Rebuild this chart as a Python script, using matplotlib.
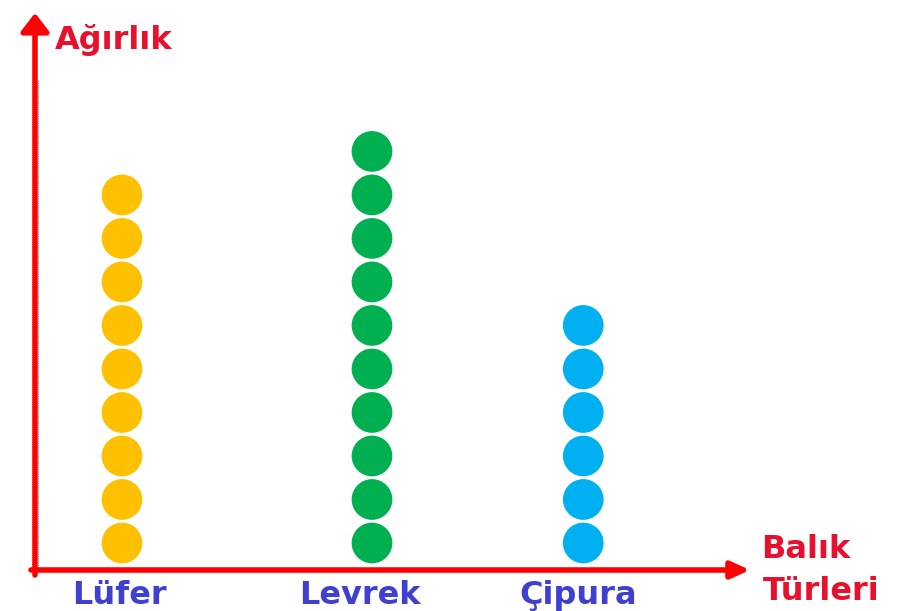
import numpy as np
import matplotlib.pyplot as plt

# Dot plot data: fish types and number of weight units (dots)
fish = ["Lüfer", "Levrek", "Çipura"]
counts = [9, 10, 6]
colors = ["#FFC000", "#00B050", "#00B0F0"]

# horizontal spot of each column (layout)
x_pos = [0, 1.0, 1.845]

fig = plt.figure(figsize=(9, 6.11), dpi=100)
ax = fig.add_axes([0, 0, 1, 1])
ax.set_xlim(-0.488, 3.112)
ax.set_ylim(-0.563, 13.48)
ax.axis("off")

# dots
for x, n, c in zip(x_pos, counts, colors):
    ys = np.arange(1, n + 1)
    ax.scatter([x] * n, ys, s=860, color=c, edgecolors="none", zorder=3)

# axes drawn as red arrows (axes fraction coords)
red = "#FF0000"
ax.annotate("", xy=(35 / 900, 1 - 13 / 611), xytext=(35 / 900, 1 - 575 / 611),
            xycoords="axes fraction",
            arrowprops=dict(arrowstyle="-|>,head_length=1.1,head_width=0.85",
                            color=red, lw=4, shrinkA=0, shrinkB=0))
ax.annotate("", xy=(750 / 900, 1 - 570 / 611), xytext=(31 / 900, 1 - 570 / 611),
            xycoords="axes fraction",
            arrowprops=dict(arrowstyle="-|>,head_length=1.1,head_width=0.5",
                            color=red, lw=4, shrinkA=0, shrinkB=0))
# faint dotted guide next to the vertical axis
ax.plot([38 / 900, 38 / 900], [1 - 80 / 611, 1 - 568 / 611], transform=ax.transAxes,
        color="#888888", lw=0.8, ls=(0, (1, 1)), zorder=1)

# axis titles
title_col = "#E8112D"
ax.text(55 / 900, 1 - 40 / 611, "Ağırlık", transform=ax.transAxes, color=title_col,
        fontsize=23, fontweight="bold", ha="left", va="center")
ax.text(806 / 900, 1 - 549 / 611, "Balık", transform=ax.transAxes, color=title_col,
        fontsize=23, fontweight="bold", ha="center", va="center")
ax.text(821 / 900, 1 - 591 / 611, "Türleri", transform=ax.transAxes, color=title_col,
        fontsize=23, fontweight="bold", ha="center", va="center")

# category labels
label_x = [-0.01, 0.95, 1.825]
for x, name in zip(label_x, fish):
    ax.text(x, -0.2, name, color="#4040D0", fontsize=23, fontweight="bold",
            ha="center", va="center")

plt.savefig("out.png", dpi=100)
